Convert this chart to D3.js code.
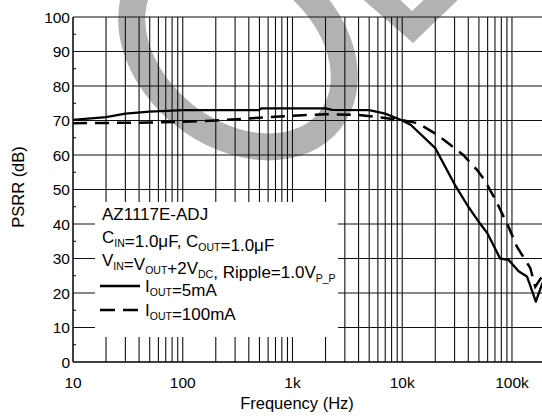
<!DOCTYPE html>
<html><head><meta charset="utf-8">
<script src="https://cdn.jsdelivr.net/npm/d3@7"></script>
<style>html,body{margin:0;padding:0;background:#fff;} svg{display:block;}</style>
</head><body>
<script>
// ---- data ----
const freq5 = [10, 20, 30, 50, 100, 200, 490, 520, 1000, 2000, 2300, 5000, 7000, 10000, 12000, 20000, 30000, 40000, 51000, 60000, 78000, 93000, 115000, 137000, 165000, 190000];
const psrr5 = [70.2, 71, 72, 72.6, 73, 73, 73, 73.5, 73.5, 73.5, 73.1, 73, 72, 70, 68.7, 62, 51.5, 45, 40.2, 37.2, 30, 29.6, 26.3, 24.8, 17.5, 23];
const freq100 = [10, 20, 50, 100, 200, 500, 1000, 2000, 4000, 6400, 10000, 14000, 21000, 36000, 48000, 56000, 70000, 93000, 111000, 147000, 163000, 190000];
const psrr100 = [69.2, 69.3, 69.4, 69.6, 70, 70.8, 71.4, 71.8, 71.6, 70.9, 70.1, 69.2, 65.8, 60, 55.7, 52.8, 47.3, 39.2, 33.4, 27.2, 21.8, 25];
const xTickValues = [10, 100, 1000, 10000, 100000];
const xTickLabels = ["10", "100", "1k", "10k", "100k"];
const yTickValues = [0, 10, 20, 30, 40, 50, 60, 70, 80, 90, 100];

const W = 542, H = 418;
const font = "'Liberation Sans', Arial, sans-serif";
const svg = d3.select("body").append("svg").attr("width", W).attr("height", H)
  .style("font-family", font);
svg.append("rect").attr("width", W).attr("height", H).attr("fill", "#fff");

const x = d3.scaleLog().domain([10, 200000]).range([73, 545]);
const y = d3.scaleLinear().domain([0, 100]).range([362, 17]);

// watermark
const wm = svg.append("g").attr("fill", "none").attr("stroke", "#b2b2b2");
wm.append("ellipse").attr("cx", 238).attr("cy", 48).attr("rx", 117).attr("ry", 86)
  .attr("stroke-width", 27).attr("transform", "rotate(38,238,48)");
svg.append("path").attr("fill", "#b2b2b2")
  .attr("d", "M358,-5 L413,43 L463,-5 L429,-5 L412,11 L395,-5 Z");

// grid
const minor = [];
for (let p = 1; p <= 5; p++) for (let m = 1; m <= 9; m++) {
  const v = m * Math.pow(10, p);
  if (v > 10 && v <= 200000) minor.push(v);
}
const grid = svg.append("g").attr("stroke", "#111").attr("stroke-width", 1.1);
grid.selectAll("line.v").data(minor).join("line")
  .attr("x1", d => x(d)).attr("x2", d => x(d)).attr("y1", y(100)).attr("y2", y(0));
grid.selectAll("line.h").data(yTickValues.filter(d => d > 0)).join("line")
  .attr("x1", x(10)).attr("x2", W).attr("y1", d => y(d)).attr("y2", d => y(d));

// curves
const line = d3.line().x(d => x(d[0])).y(d => y(d[1]));
svg.append("path").datum(freq5.map((f, i) => [f, psrr5[i]]))
  .attr("d", line).attr("fill", "none").attr("stroke", "#000").attr("stroke-width", 2.3)
  .attr("stroke-linejoin", "round");
svg.append("path").datum(freq100.map((f, i) => [f, psrr100[i]]))
  .attr("d", line).attr("fill", "none").attr("stroke", "#000").attr("stroke-width", 2.5)
  .attr("stroke-dasharray", "14,8");

// legend box
svg.append("rect").attr("x", 95).attr("y", 202).attr("width", 243).attr("height", 135).attr("fill", "#fff");

// axes
svg.append("line").attr("x1", x(10)).attr("x2", x(10)).attr("y1", y(100)).attr("y2", y(0))
  .attr("stroke", "#000").attr("stroke-width", 1.5);
svg.append("line").attr("x1", x(10)).attr("x2", W).attr("y1", y(0)).attr("y2", y(0))
  .attr("stroke", "#000").attr("stroke-width", 1.5);
svg.selectAll("line.ym").data(d3.range(5, 100, 10)).join("line")
  .attr("x1", x(10)).attr("x2", x(10) + 3).attr("y1", d => y(d)).attr("y2", d => y(d))
  .attr("stroke", "#000").attr("stroke-width", 1);

svg.selectAll("text.yt").data(yTickValues).join("text")
  .attr("x", 70).attr("y", d => y(d)).attr("dy", "0.36em").attr("text-anchor", "end")
  .attr("font-size", 15.5).text(d => d);
svg.selectAll("text.xt").data(xTickValues).join("text")
  .attr("x", d => x(d)).attr("y", 388).attr("text-anchor", "middle")
  .attr("font-size", 15.5).text((d, i) => xTickLabels[i]);

svg.append("text").attr("x", 297).attr("y", 409).attr("text-anchor", "middle")
  .attr("font-size", 16.5).text("Frequency (Hz)");
svg.append("text").attr("transform", "translate(24,187) rotate(-90)").attr("text-anchor", "middle")
  .attr("font-size", 16.5).text("PSRR (dB)");

// legend text
const lg = svg.append("g").attr("font-size", 17);
function rich(yy, xx, parts) {
  const t = lg.append("text").attr("x", xx).attr("y", yy);
  parts.forEach(p => {
    if (typeof p === "string") t.append("tspan").text(p);
    else {
      t.append("tspan").attr("font-size", 10.5).attr("dy", 4).text(p.sub);
      t.append("tspan").attr("dy", -4).text("");
    }
  });
  return t;
}
rich(220, 102, ["AZ1117E-ADJ"]);
rich(243, 102, ["C", {sub: "IN"}, "=1.0\u03bcF, C", {sub: "OUT"}, "=1.0\u03bcF"]);
rich(266, 102, ["V", {sub: "IN"}, "=V", {sub: "OUT"}, "+2V", {sub: "DC"}, ", Ripple=1.0V", {sub: "P_P"}]);
rich(292, 145, ["I", {sub: "OUT"}, "=5mA"]);
rich(316, 145, ["I", {sub: "OUT"}, "=100mA"]);
svg.append("line").attr("x1", 100).attr("x2", 140).attr("y1", 286).attr("y2", 286)
  .attr("stroke", "#000").attr("stroke-width", 2.3);
svg.append("line").attr("x1", 100).attr("x2", 140).attr("y1", 310).attr("y2", 310)
  .attr("stroke", "#000").attr("stroke-width", 2.5).attr("stroke-dasharray", "15,8");
</script>
</body></html>
